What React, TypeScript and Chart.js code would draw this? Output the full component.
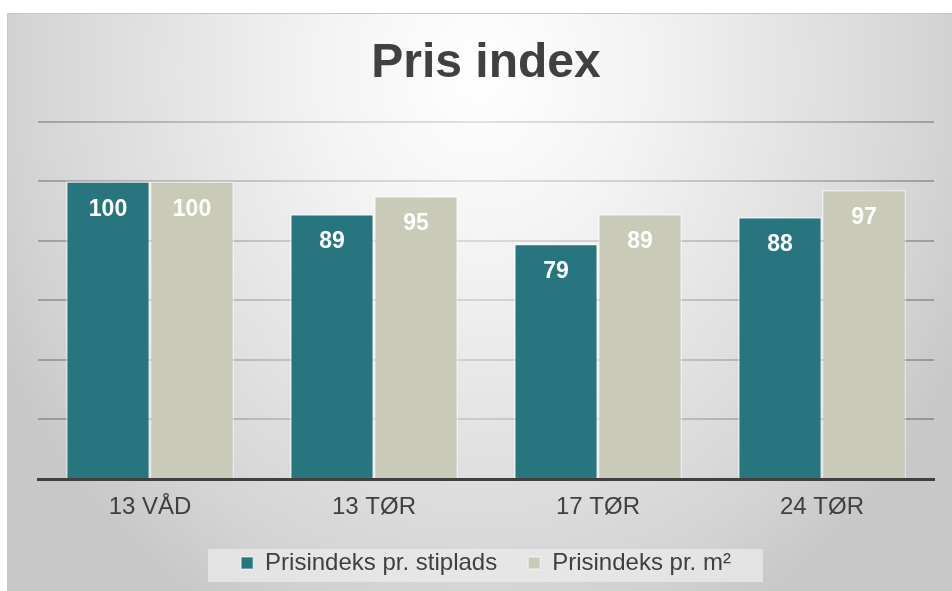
import React, { useEffect, useRef } from "react";
import { Chart, registerables } from "chart.js";

Chart.register(...registerables);

const categories = ["13 VÅD", "13 TØR", "17 TØR", "24 TØR"];
const seriesNames = ["Prisindeks pr. stiplads", "Prisindeks pr. m²"];
const stipladsValues = [100, 89, 79, 88];
const m2Values = [100, 95, 89, 97];
const yMin = 0;
const yMax = 120;
const yStep = 20;

const FONT = "'Liberation Sans', Arial, Helvetica, sans-serif";
const TEXT = "#404040";

const GCX = 480, GCY = 70, GR = 620, GSX = 0.87;

function radial(ctx: CanvasRenderingContext2D, stops: [number, string][]) {
  const g = ctx.createRadialGradient(0, 0, 0, 0, 0, GR);
  stops.forEach(([o, c]) => g.addColorStop(o, c));
  return g;
}

let gridGradCache: any = null;
function gridColor(c: any) {
  const chart = c.chart;
  if (!chart || !chart.ctx) return "rgba(0,0,0,0.15)";
  if (gridGradCache && gridGradCache.chart === chart) return gridGradCache.g;
  const g = chart.ctx.createLinearGradient(0, 0, chart.width, 0);
  g.addColorStop(0, "rgba(0,0,0,0.26)");
  g.addColorStop(0.3, "rgba(0,0,0,0.15)");
  g.addColorStop(0.5, "rgba(0,0,0,0.11)");
  g.addColorStop(0.7, "rgba(0,0,0,0.15)");
  g.addColorStop(1, "rgba(0,0,0,0.26)");
  gridGradCache = { chart, g };
  return g;
}

const backgroundPlugin = {
  id: "bgFrame",
  beforeDraw(chart: any) {
    const { ctx, width, height } = chart;
    ctx.save();
    ctx.fillStyle = "#ffffff";
    ctx.fillRect(0, 0, width, height);
    const fx = 7, fy = 13;
    ctx.save();
    ctx.beginPath();
    ctx.rect(fx, fy, width - fx, height - fy);
    ctx.clip();
    ctx.translate(GCX, GCY);
    ctx.scale(GSX, 1);
    ctx.fillStyle = radial(ctx, [
      [0, "#ffffff"],
      [0.3, "#f3f3f3"],
      [0.6, "#e2e2e2"],
      [0.85, "#d4d4d4"],
      [1, "#c8c8c8"],
    ]);
    ctx.fillRect(-1200, -200, 2400, 900);
    ctx.restore();
    ctx.strokeStyle = "#c8c8c8";
    ctx.lineWidth = 1;
    ctx.beginPath();
    ctx.moveTo(fx + 0.5, height);
    ctx.lineTo(fx + 0.5, fy + 0.5);
    ctx.lineTo(width, fy + 0.5);
    ctx.stroke();

    // legend background box
    const legend = chart.legend;
    if (legend && legend.legendHitBoxes && legend.legendHitBoxes.length) {
      const hb = legend.legendHitBoxes;
      let minX = Infinity, maxX = -Infinity, cy = 0;
      hb.forEach((b: any) => {
        minX = Math.min(minX, b.left);
        maxX = Math.max(maxX, b.left + b.width);
        cy = b.top + b.height / 2;
      });
      ctx.fillStyle = "rgba(236,236,236,0.7)";
      ctx.fillRect(minX - 33, cy - 14, maxX - minX + 65, 33);
    }
    ctx.restore();
  },
};

const labelPlugin = {
  id: "barLabels",
  afterDatasetsDraw(chart: any) {
    const { ctx } = chart;
    ctx.save();
    ctx.fillStyle = "#ffffff";
    ctx.font = `bold 23px ${FONT}`;
    ctx.textAlign = "center";
    ctx.textBaseline = "middle";
    chart.data.datasets.forEach((ds: any, i: number) => {
      const meta = chart.getDatasetMeta(i);
      meta.data.forEach((el: any, j: number) => {
        ctx.fillText(String(ds.data[j]), el.x, el.y + 28);
      });
    });
    ctx.restore();
  },
};

function BarChart() {
  const ref = useRef<HTMLCanvasElement | null>(null);
  useEffect(() => {
    if (!ref.current) return;
    gridGradCache = null;
    const chart = new Chart(ref.current, {
      type: "bar",
      data: {
        labels: categories,
        datasets: [
          {
            label: seriesNames[0],
            data: stipladsValues,
            backgroundColor: "#27757e",
            borderColor: "rgba(255,255,255,0.45)",
            borderWidth: 1.5,
            categoryPercentage: 0.75,
            barPercentage: 1,
          },
          {
            label: seriesNames[1],
            data: m2Values,
            backgroundColor: "#cacab8",
            borderColor: "rgba(255,255,255,0.45)",
            borderWidth: 1.5,
            categoryPercentage: 0.75,
            barPercentage: 1,
          },
        ],
      },
      options: {
        responsive: false,
        animation: false,
        devicePixelRatio: 1,
        layout: { padding: { top: 14, left: 38, right: 18, bottom: 6 } },
        plugins: {
          title: {
            display: true,
            text: "Pris index",
            color: TEXT,
            font: { family: FONT, size: 48, weight: "bold", lineHeight: 1.2 },
            padding: { top: 21, bottom: 29 },
          },
          legend: {
            position: "bottom",
            labels: {
              color: TEXT,
              font: { family: FONT, size: 24, lineHeight: 1.2 },
              boxWidth: 12,
              boxHeight: 12,
              padding: 31,
              useBorderRadius: false,
            },
          },
          tooltip: { enabled: false },
        },
        scales: {
          x: {
            z: 2,
            grid: { display: false, drawTicks: false },
            border: { display: true, color: "#404040", width: 3 },
            ticks: {
              color: TEXT,
              font: { family: FONT, size: 24, lineHeight: 1.2 },
              padding: 14,
            },
            afterFit(scale: any) {
              scale.height = 41;
            },
          },
          y: {
            min: yMin,
            max: yMax,
            z: 1,
            ticks: { display: false, stepSize: yStep },
            grid: { color: gridColor, lineWidth: 2, drawTicks: false },
            border: { display: false },
            afterFit(scale: any) {
              scale.width = 0;
            },
          },
        },
      },
      plugins: [backgroundPlugin, labelPlugin],
    });
    return () => chart.destroy();
  }, []);
  return <canvas ref={ref} width={952} height={591} />;
}

export default function App() {
  return (
    <div style={{ position: "fixed", left: 0, top: 0, width: 952, height: 591 }}>
      <BarChart />
    </div>
  );
}
